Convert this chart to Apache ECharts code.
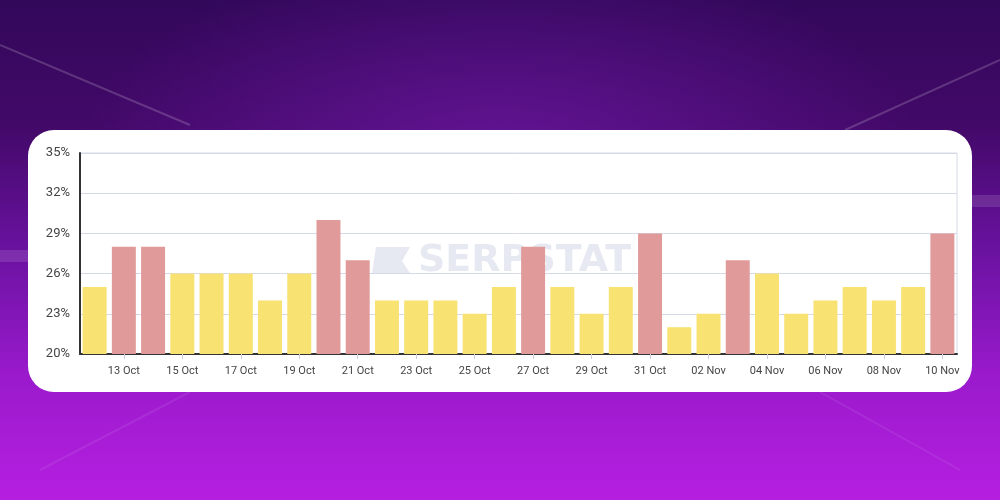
<!DOCTYPE html>
<html>
<head>
<meta charset="utf-8">
<script src="https://cdn.jsdelivr.net/npm/echarts@6/dist/echarts.min.js"></script>
<style>
html,body{margin:0;padding:0;width:1000px;height:500px;overflow:hidden;}
body{
  background:
    radial-gradient(ellipse 420px 200px at 500px 150px, rgba(130,30,190,0.5), rgba(130,30,190,0) 100%),
    linear-gradient(180deg, #32085a 0%, #420968 25%, #6a12a0 50%, #9a1acc 75%, #b51fe0 100%);
}
#chart{position:absolute;left:0;top:0;width:1000px;height:500px;}
</style>
</head>
<body>
<div id="chart"></div>
<script>
const categories = ['12 Oct','13 Oct','14 Oct','15 Oct','16 Oct','17 Oct','18 Oct','19 Oct','20 Oct','21 Oct',
  '22 Oct','23 Oct','24 Oct','25 Oct','26 Oct','27 Oct','28 Oct','29 Oct','30 Oct','31 Oct',
  '01 Nov','02 Nov','03 Nov','04 Nov','05 Nov','06 Nov','07 Nov','08 Nov','09 Nov','10 Nov'];
const values = [25,28,28,26,26,26,24,26,30,27,24,24,24,23,25,28,25,23,25,29,22,23,27,26,23,24,25,24,25,29];
const yTicks = [20,23,26,29,32,35];

const YELLOW = '#f8e272';
const RED = '#e09a99';
const highThreshold = 26;

const chart = echarts.init(document.getElementById('chart'), null, {renderer:'canvas'});
const everyOther = (i) => i % 2 === 1;

chart.setOption({
  backgroundColor: 'transparent',
  animation: false,
  graphic: [
    {type:'line', z:-10, shape:{x1:0,y1:45,x2:190,y2:125}, style:{stroke:'rgba(255,255,255,0.18)', lineWidth:2}},
    {type:'line', z:-10, shape:{x1:1000,y1:60,x2:845,y2:130}, style:{stroke:'rgba(255,255,255,0.18)', lineWidth:2}},
    {type:'line', z:-10, shape:{x1:40,y1:470,x2:190,y2:392}, style:{stroke:'rgba(255,255,255,0.08)', lineWidth:2}},
    {type:'line', z:-10, shape:{x1:960,y1:470,x2:820,y2:392}, style:{stroke:'rgba(255,255,255,0.08)', lineWidth:2}},
    {type:'rect', z:-10, shape:{x:0,y:250,width:28,height:12}, style:{fill:'rgba(255,255,255,0.12)'}},
    {type:'rect', z:-10, shape:{x:972,y:195,width:28,height:12}, style:{fill:'rgba(255,255,255,0.12)'}},
    {type:'rect', z:-5, shape:{x:28,y:130,width:944,height:262,r:26}, style:{fill:'#ffffff'}},
    {type:'text', z:-1, left:418, top:242, style:{text:'SERPSTAT', fill:'rgba(214,218,234,0.6)', font:'bold 38px "DejaVu Sans", sans-serif'}},
    {type:'polygon', z:-1, shape:{points:[[376,247],[410,247],[402,261],[410,273],[372,273]]}, style:{fill:'rgba(214,218,234,0.6)'}}
  ],
  grid: {left:80, right:43, top:153, bottom:146, show:true, borderColor:'#d6d9e8', borderWidth:1, backgroundColor:'transparent'},
  xAxis: {
    type:'category',
    data: categories,
    axisLine:{show:true, lineStyle:{color:'#333333', width:2}},
    axisTick:{show:true, alignWithLabel:true, interval: everyOther, length:5, lineStyle:{color:'#c8cbd8'}},
    axisLabel:{interval: everyOther, color:'#444444', fontSize:11, fontFamily:'Roboto, sans-serif', margin:12},
    splitLine:{show:false}
  },
  yAxis: {
    type:'value',
    min: yTicks[0], max: yTicks[yTicks.length-1], interval: 3,
    axisLine:{show:true, lineStyle:{color:'#333333', width:2}},
    axisTick:{show:false},
    axisLabel:{formatter:'{value}%', color:'#444444', fontSize:13, fontFamily:'Roboto, sans-serif', margin:10},
    splitLine:{show:true, lineStyle:{color:'#d6d9e8', width:1}}
  },
  series: [{
    type:'bar',
    data: values,
    barCategoryGap:'18%',
    itemStyle:{color: (p) => p.value > highThreshold ? RED : YELLOW}
  }]
});
</script>
</body>
</html>
